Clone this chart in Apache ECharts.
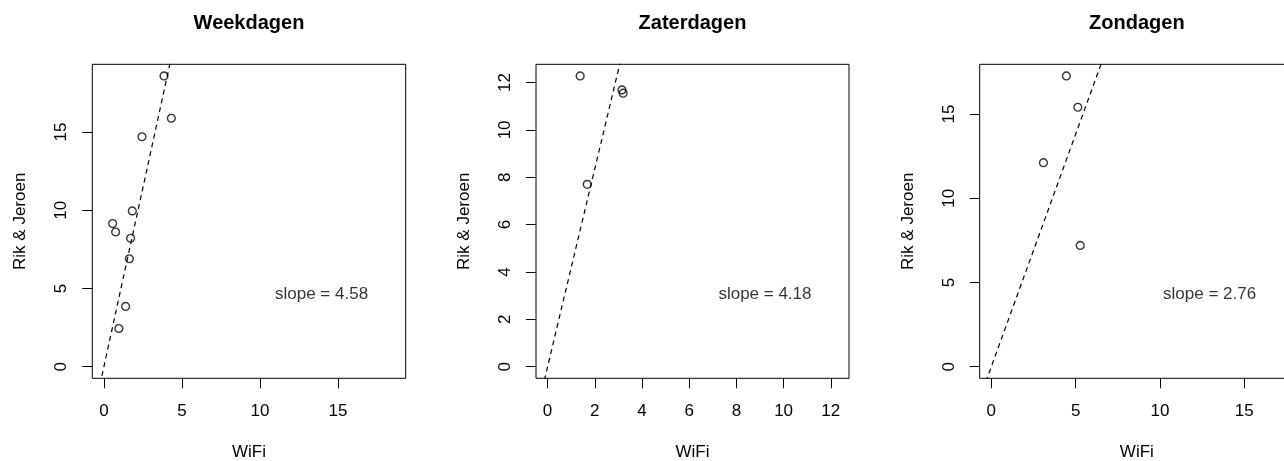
<!DOCTYPE html>
<html>
<head>
<meta charset="utf-8">
<title>WiFi vs Rik & Jeroen</title>
<script src="https://cdn.jsdelivr.net/npm/echarts@6/dist/echarts.min.js"></script>
<style>
  html, body { margin: 0; padding: 0; background: #fff; }
  #chart { width: 1284px; height: 461px; }
</style>
</head>
<body>
<div id="chart"></div>
<script>
// Scatter values per day type (x = WiFi, y = Rik & Jeroen)
const weekdagenWifi = [3.85, 4.32, 2.44, 1.82, 0.56, 0.75, 1.71, 1.63, 1.39, 0.96];
const weekdagenRJ   = [18.59, 15.88, 14.70, 9.96, 9.15, 8.61, 8.21, 6.90, 3.85, 2.44];

const zaterdagenWifi = [1.38, 3.15, 3.20, 1.68];
const zaterdagenRJ   = [12.28, 11.69, 11.55, 7.70];

const zondagenWifi = [4.45, 5.13, 3.09, 5.27];
const zondagenRJ   = [17.26, 15.40, 12.11, 7.20];

// Slope of the fitted line through the origin
const slopes = [4.58, 4.18, 2.76];

const panelTitles = ['Weekdagen', 'Zaterdagen', 'Zondagen'];

// Tick labels per panel
const ticks1 = [0, 5, 10, 15];
const ticks2 = [0, 2, 4, 6, 8, 10, 12];
const ticks3 = [0, 5, 10, 15];

const panels = [
  { x: weekdagenWifi, y: weekdagenRJ, ticks: ticks1 },
  { x: zaterdagenWifi, y: zaterdagenRJ, ticks: ticks2 },
  { x: zondagenWifi, y: zondagenRJ, ticks: ticks3 }
];

const FONT = '"Liberation Sans", Arial, Helvetica, sans-serif';
const gridBoxes = [
  { left: 92.3, top: 64.3, width: 313.4, height: 314 },
  { left: 536, top: 64.3, width: 313, height: 314 },
  { left: 979.7, top: 64.3, width: 314.3, height: 314 }
];

const grids = [], xAxes = [], yAxes = [], series = [], graphics = [];

panels.forEach((p, i) => {
  const lim = Math.max(...p.y);
  const lo = -0.04 * lim, hi = 1.04 * lim;
  const g = gridBoxes[i];

  grids.push({
    left: g.left, top: g.top, width: g.width, height: g.height,
    show: true, borderColor: '#000', borderWidth: 1, backgroundColor: 'transparent',
    outerBoundsMode: 'none',
    containLabel: false
  });

  const axisCommon = {
    min: lo, max: hi,
    gridIndex: i,
    type: 'value',
    splitLine: { show: false },
    axisLine: { show: false, onZero: false },
    axisTick: { show: true, inside: false, length: 10, lineStyle: { color: '#000', width: 1 }, customValues: p.ticks },
    nameLocation: 'middle',
    nameTextStyle: { fontFamily: FONT, fontSize: 17, color: '#000' }
  };

  xAxes.push(Object.assign({}, axisCommon, {
    name: 'WiFi',
    position: 'bottom',
    nameGap: 66,
    axisLabel: { fontFamily: FONT, fontSize: 17, color: '#000', margin: 25, customValues: p.ticks }
  }));
  yAxes.push(Object.assign({}, axisCommon, {
    name: 'Rik & Jeroen',
    position: 'left',
    nameGap: 63,
    axisLabel: { fontFamily: FONT, fontSize: 17, color: '#000', margin: 22, rotate: 90, customValues: p.ticks }
  }));

  // Dashed line y = slope * x across the full axis range
  series.push({
    type: 'line',
    xAxisIndex: i, yAxisIndex: i,
    data: [[lo, slopes[i] * lo], [hi, slopes[i] * hi]],
    symbol: 'none',
    clip: true,
    silent: true,
    lineStyle: { color: '#000', width: 1.2, type: [5, 4] },
    z: 2
  });

  // Observations as open circles
  series.push({
    type: 'scatter',
    xAxisIndex: i, yAxisIndex: i,
    data: p.x.map((v, k) => [v, p.y[k]]),
    symbol: 'circle',
    symbolSize: 7.8,
    itemStyle: { color: 'transparent', borderColor: '#000', borderWidth: 1.4 },
    z: 3
  });

  // Slope annotation placed at (0.75, 0.25) of the limit
  series.push({
    type: 'scatter',
    xAxisIndex: i, yAxisIndex: i,
    data: [[0.75 * lim, 0.25 * lim]],
    symbolSize: 1,
    itemStyle: { color: 'transparent', borderColor: 'transparent' },
    silent: true,
    label: {
      show: true, position: 'inside',
      formatter: 'slope = ' + slopes[i].toFixed(2),
      fontFamily: FONT, fontSize: 17, color: '#000'
    },
    z: 4
  });

  graphics.push({
    type: 'text',
    x: g.left + g.width / 2,
    y: 23,
    style: {
      text: panelTitles[i],
      fontFamily: FONT, fontSize: 20, fontWeight: 'bold', fill: '#000',
      textAlign: 'center', textVerticalAlign: 'middle'
    }
  });
});

const chart = echarts.init(document.getElementById('chart'), null, { renderer: 'canvas' });
chart.setOption({
  animation: false,
  backgroundColor: '#fff',
  grid: grids,
  xAxis: xAxes,
  yAxis: yAxes,
  series: series,
  graphic: graphics
});
</script>
</body>
</html>
